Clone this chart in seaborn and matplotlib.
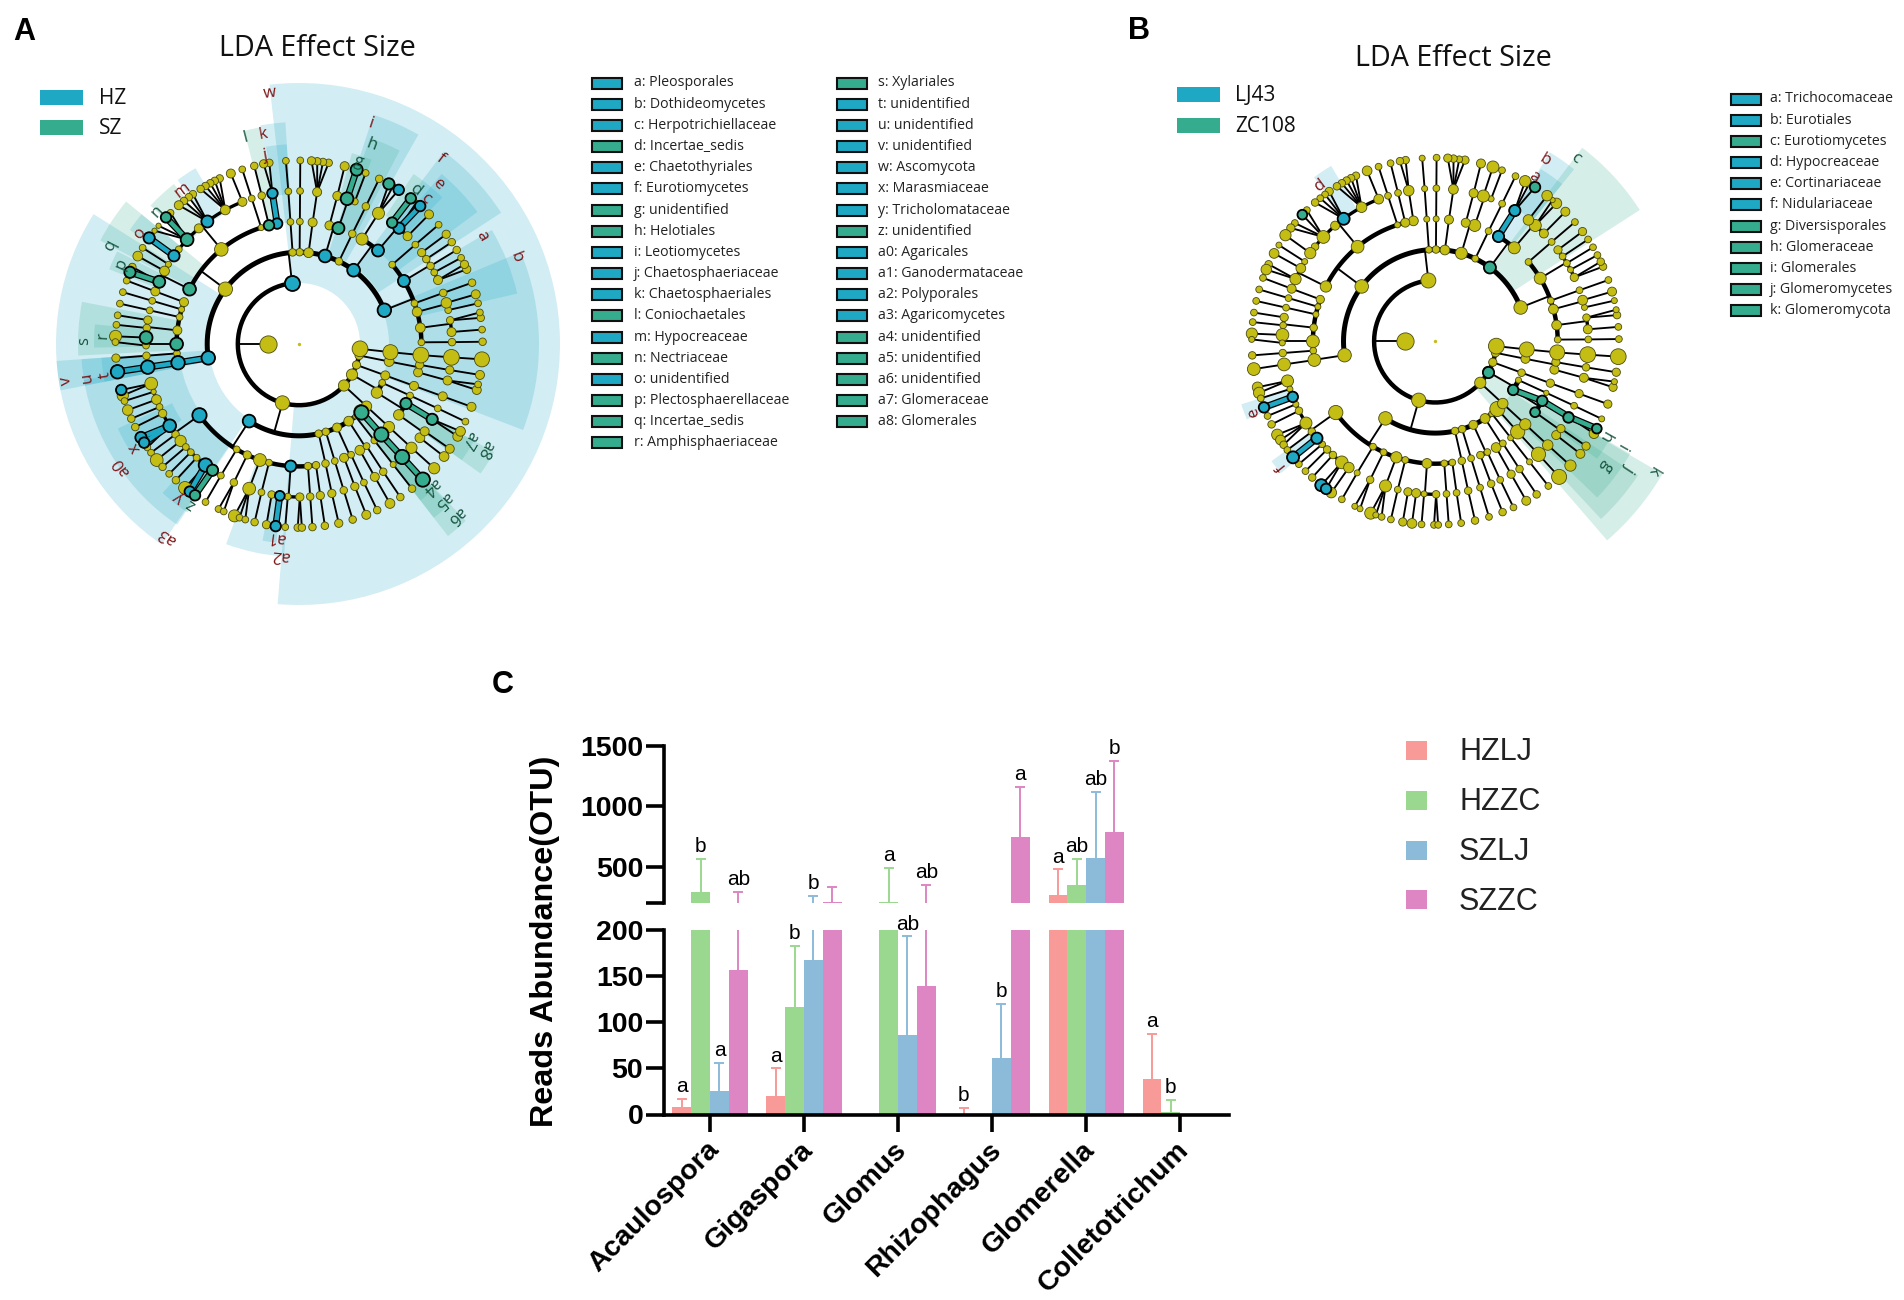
import numpy as np
import pandas as pd
import seaborn as sns
import matplotlib.pyplot as plt
from matplotlib.patches import Rectangle
from matplotlib.transforms import ScaledTranslation

sns.set_theme(style='white')
plt.rcParams['font.family'] = ['Open Sans', 'DejaVu Sans']

W, H = 1904, 1300
BLUE, GREEN, YELLOW = '#1FA8C3', '#36AC8F', '#C4BD14'
DARKRED, DARKGREEN = '#7B1416', '#14533C'
STEP = 30.6  # ring spacing of the cladogram

# shared taxonomy tree: ring angle (deg) of each clade and index of its parent on the ring inside
theta_l2 = [96.5, 254.3, 317.3, 330, 340, 349.2, 355.5]
theta_l3 = [21.6, 53.5, 64.2, 73.5, 84, 89.6, 94, 143.3, 188.7, 237.1, 282.4, 287, 294.5, 302.8, 308, 312.5,
            317.3, 328, 335, 340, 349, 354.9]
parent_l3 = [0, 0, 0, 0, 0, 0, 0, 0, 0, 1, 1, 1, 1, 1, 1, 1, 2, 3, 3, 4, 5, 6]
theta_l4 = [0.8, 7.6, 15.2, 19.4, 31, 40.4, 49.8, 59, 64.2, 71.2, 75.6, 83.6, 89.6, 94, 100.3, 104.2, 108, 129.4,
            153.4, 160, 163.6, 167.3, 173.6, 180, 184.4, 188.8, 215.6, 239.4, 245, 251.4, 255.8, 266.1, 274.2, 278,
            282.5, 287, 291.6, 295.2, 299.8, 303.5, 308, 312.3, 317.3, 324.6, 330.9, 335.1, 340, 346.6, 350.2, 354.8]
parent_l4 = [0, 0, 0, 0, 0, 0, 1, 1, 2, 3, 3, 4, 5, 6, 7, 7, 7, 7, 7, 8, 8, 8, 8, 8, 8, 8, 9, 9, 9, 9, 9, 9, 9, 9,
             10, 11, 12, 12, 13, 13, 14, 15, 16, 17, 17, 18, 19, 20, 20, 21]
theta_l5 = [0.7, 4.5, 8.9, 12.8, 15.6, 19.5, 24.7, 27.9, 30.7, 33.7, 36.7, 40.5, 44.8, 49.2, 52.5, 58.7, 64.1, 68.6,
            71.7, 75.5, 83.2, 89.6, 94, 100, 104.1, 108, 111.7, 118.8, 126.8, 130.9, 137, 141.8, 144.8, 148.6, 151.5,
            156, 159.9, 163.6, 167.3, 171, 174, 177.6, 180.6, 184.4, 188.7, 195, 198.2, 201.3, 204.3, 207, 212.3,
            216.2, 219.3, 222.3, 225, 228, 232.3, 235.6, 239.3, 244.8, 251, 255.8, 259.7, 262.8, 265.8, 270.3, 274.2,
            278, 282.4, 287, 291.4, 295.1, 299.7, 303.4, 308, 312.4, 317.3, 322.2, 325.2, 330.5, 335.1, 340, 346.2,
            350.2, 355]
parent_l5 = [0, 1, 1, 2, 2, 3, 4, 4, 4, 4, 4, 5, 6, 6, 6, 7, 8, 9, 9, 10, 11, 12, 13, 14, 15, 16, 17, 17, 17, 17, 17,
             17, 17, 18, 18, 18, 19, 20, 21, 22, 22, 23, 23, 24, 25, 26, 26, 26, 26, 26, 26, 26, 26, 26, 26, 26, 26,
             26, 27, 28, 29, 30, 31, 31, 31, 31, 32, 33, 34, 35, 36, 37, 38, 39, 40, 41, 42, 43, 43, 44, 45, 46, 47,
             48, 49]
theta_l6 = [0.7, 4.5, 8.2, 9.9, 12.8, 15.7, 19.5, 24, 25.7, 28, 30.8, 33.7, 36.7, 40.5, 44.9, 48.7, 50.3, 52.5, 57.1,
            59.2, 60.7, 64.1, 68.7, 71.7, 75.6, 80.7, 82.5, 84.3, 86.1, 89.6, 94.1, 99.3, 101.1, 104.1, 108, 111.8,
            115.6, 117.3, 118.9, 120.6, 122.4, 125.3, 126.9, 128.8, 130.9, 134.4, 136.4, 139.9, 141.9, 144.7, 148.4,
            151.4, 155.2, 157, 159.8, 163.6, 167.3, 171, 174, 177.6, 179.4, 184.4, 188.7, 194.5, 196.3, 198.1, 201.1,
            204, 206.9, 210.6, 212.5, 214.3, 216.3, 219.2, 222, 225, 227.9, 231.6, 233.5, 235.5, 239.4, 244, 245.8,
            249.4, 251.1, 253, 256, 259.8, 262.7, 265.7, 269.6, 270.9, 274.2, 278.1, 282.5, 287, 291.5, 295.2, 299.7,
            303.5, 308, 312.4, 317.4, 322.2, 325.2, 329.8, 331.6, 335, 340, 345.5, 347.3, 350.3, 355.2]
parent_l6 = [0, 1, 2, 2, 3, 4, 5, 6, 6, 7, 8, 9, 10, 11, 12, 13, 13, 14, 15, 15, 15, 16, 17, 18, 19, 20, 20, 20, 20,
             21, 22, 23, 23, 24, 25, 26, 27, 27, 27, 27, 27, 28, 28, 28, 28, 30, 30, 30, 30, 32, 33, 34, 35, 35, 36,
             37, 38, 39, 40, 41, 42, 43, 44, 45, 45, 46, 47, 48, 49, 50, 50, 50, 51, 52, 53, 54, 55, 56, 56, 57, 58,
             59, 59, 60, 60, 60, 61, 62, 63, 64, 65, 65, 66, 67, 68, 69, 70, 71, 72, 73, 74, 75, 76, 77, 78, 79, 79,
             80, 81, 82, 82, 83, 84]

# panel A: node abundance by ring
a_size_l2 = [40, 38, 30, 30, 22, 22, 42]
a_size_l3 = [36, 34, 20, 34, 26, 20, 20, 38, 36, 34, 20, 20, 24, 26, 14, 38, 28, 30, 18, 24, 26, 40]
a_size_l4 = [18, 26, 26, 18, 32, 18, 32, 32, 20, 32, 24, 24, 18, 18, 28, 28, 16, 36, 34, 24, 16, 18, 24, 34, 18, 36,
             38, 18, 22, 34, 18, 30, 20, 20, 20, 18, 24, 18, 26, 18, 18, 38, 30, 28, 30, 18, 24, 24, 22, 42]
a_size_l5 = [20, 24, 20, 18, 28, 20, 24, 18, 20, 20, 22, 18, 24, 30, 28, 32, 20, 18, 34, 24, 24, 18, 18, 28, 20, 18,
             24, 26, 32, 24, 34, 18, 30, 16, 26, 32, 24, 18, 18, 22, 20, 34, 18, 20, 36, 34, 14, 26, 18, 22, 34, 20,
             30, 18, 18, 18, 36, 30, 18, 20, 34, 18, 20, 26, 18, 22, 20, 22, 22, 20, 22, 18, 24, 20, 16, 38, 30, 26,
             24, 30, 18, 24, 24, 22, 42]
a_size_l6 = [20, 18, 20, 18, 18, 24, 20, 22, 22, 18, 20, 20, 22, 18, 24, 28, 14, 28, 28, 16, 30, 20, 18, 32, 24, 20,
             20, 20, 22, 18, 18, 20, 22, 20, 18, 24, 20, 20, 20, 20, 20, 20, 20, 20, 24, 18, 28, 14, 14, 30, 18, 26,
             20, 30, 18, 18, 18, 18, 18, 32, 18, 22, 36, 28, 30, 18, 28, 20, 20, 30, 28, 18, 18, 34, 20, 18, 20, 34,
             28, 28, 18, 18, 18, 32, 18, 18, 20, 22, 28, 18, 20, 20, 20, 20, 22, 20, 24, 20, 26, 20, 20, 38, 30, 26,
             24, 26, 26, 18, 24, 24, 18, 24, 40]
# panel B: node abundance by ring
b_size_l2 = [40, 38, 30, 30, 22, 22, 42]
b_size_l3 = [36, 32, 18, 32, 26, 20, 18, 36, 36, 36, 20, 20, 24, 26, 16, 40, 28, 28, 16, 20, 24, 40]
b_size_l4 = [18, 26, 26, 18, 32, 18, 32, 30, 18, 32, 24, 24, 16, 16, 26, 24, 16, 34, 30, 22, 16, 16, 20, 34, 18, 34,
             38, 18, 18, 30, 18, 26, 18, 18, 20, 18, 20, 18, 26, 18, 16, 38, 30, 26, 28, 14, 22, 24, 22, 40]
b_size_l5 = [18, 24, 20, 16, 26, 18, 22, 16, 18, 18, 22, 18, 24, 32, 28, 30, 18, 16, 32, 24, 26, 18, 16, 28, 18, 18,
             26, 28, 32, 24, 34, 20, 30, 16, 26, 30, 24, 18, 18, 22, 18, 34, 16, 20, 34, 32, 16, 28, 16, 20, 32, 20,
             30, 18, 20, 20, 34, 28, 16, 20, 32, 18, 22, 24, 16, 20, 18, 18, 20, 18, 20, 18, 22, 20, 16, 38, 28, 24,
             22, 28, 18, 22, 24, 20, 42]
b_size_l6 = [18, 18, 20, 16, 16, 24, 18, 20, 20, 18, 18, 18, 22, 18, 24, 28, 14, 28, 28, 18, 30, 18, 18, 32, 24, 22,
             18, 20, 22, 18, 16, 20, 20, 18, 18, 26, 20, 20, 20, 20, 20, 22, 18, 18, 20, 18, 26, 18, 22, 30, 16, 26,
             20, 28, 18, 18, 18, 18, 18, 30, 16, 20, 34, 28, 30, 18, 28, 18, 20, 30, 26, 20, 18, 32, 18, 18, 20, 32,
             28, 28, 18, 16, 16, 32, 16, 18, 18, 22, 26, 18, 18, 18, 18, 18, 20, 18, 20, 18, 24, 20, 18, 40, 30, 24,
             22, 26, 26, 16, 22, 22, 16, 22, 42]

# enriched clades per ring (ring number: clade indices)
a_hz = {2: [0], 3: [0, 1, 3, 8, 9], 4: [4, 6, 14, 25, 26, 31], 5: [13, 23, 28, 32, 44, 50, 56, 63],
        6: [15, 18, 49, 62, 63, 69, 70, 78, 88]}
a_sz = {3: [15], 4: [9, 15, 18, 23, 41, 44], 5: [14, 18, 30, 35, 41, 57, 75, 79], 6: [17, 20, 23, 46, 53, 79, 101]}
a_links = {4: [25, 41], 5: [23, 44, 75, 79], 6: [15, 17, 23, 46, 49, 53, 62, 69, 70, 78, 79, 88, 101]}
b_lj = {4: [7], 5: [15, 28, 47, 52], 6: [66, 73, 77, 78]}
b_zc = {2: [3], 3: [1, 17], 4: [43, 44], 5: [79], 6: [18, 46, 106]}
b_links = {4: [44], 5: [15, 79], 6: [66, 73, 106]}

# shaded sectors
a_sector_from = [-94.7, 147.7, 250, 189.5, -21, 33, 60.3, 13, 36.5, 62.5, 68.5, 45.6, 52, 93.5, 93.5, 100, 120.5, 128,
                 140.5, 140.5, 153, 174.5, 169, 184, 184, 184, 205, 227.5, 233.5, 259.5, -52.2, -52.2, -52.2, -35.5,
                 -35.5]
a_sector_to = [96.5, 235.6, 266, 236, 22.5, 53, 72, 30.6, 50, 71, 74.5, 52, 56, 100, 99.5, 104.4, 126.5, 137, 146,
               152.5, 158.5, 181, 183, 191, 191, 191, 213, 233.5, 236.5, 263.5, -47, -47, -46.7, -29, -29]
a_sector_in = [61, 90, 122, 120, 90, 95, 95, 123, 122, 122, 155, 155, 155, 122, 150, 122, 150, 150, 150, 122, 150,
               150, 122, 90, 120, 150, 140, 150, 150, 155, 152, 122, 90, 155, 122]
a_sector_out = [261, 243, 213, 218, 240, 241, 241, 224, 222, 218, 198, 205, 205, 222, 200, 220, 204, 203, 204, 224,
                204, 205, 221, 243, 218, 198, 200, 202, 202, 200, 198, 220, 243, 200, 223]
a_sector_sz = [0, 0, 0, 0, 0, 0, 0, 0, 0, 1, 1, 0, 1, 0, 0, 1, 0, 1, 0, 1, 1, 1, 1, 0, 0, 0, 0, 0, 1, 0, 1, 1, 1, 1, 1]
b_sector_from = [51.1, 51.1, 32.7, 120.7, 198, 216.2, -44, -36, -37, -47, -49.2]
b_sector_to = [58.5, 58.8, 52.8, 126.5, 202.5, 220.5, -37, -30, -30, -33.5, -30.3]
b_sector_in = [155, 122, 93, 154, 154, 154, 122, 155, 122, 92, 61]
b_sector_out = [202, 221, 243, 204, 204, 203, 225, 200, 225, 243, 263]
b_sector_zc = [0, 0, 1, 0, 0, 0, 1, 1, 1, 1, 1]

# clade letters on the rings
a_mark = ['w', 'i', 'h', 'g', 'f', 'e', 'd', 'c', 'a', 'b', 'a7', 'a8', 'a4', 'a5', 'a6', 'a1', 'a2', 'a3', 'y', 'z',
          'x', 'a0', 't', 'u', 'v', 's', 'r', 'q', 'p', 'o', 'n', 'm', 'l', 'k', 'j']
a_mark_theta = [96.6, 72, 70, 72, 52.8, 48.8, 52.8, 49, 30.5, 21.8, -29.4, -29.4, -47.2, -47.4, -47.5, 263.2, 265,
                235.7, 232.2, 235.9, 212.2, 214.7, 188.9, 189, 189, 179.3, 177.4, 152.6, 155.7, 145.2, 137, 127,
                104.4, 99.8, 100]
a_mark_r = [252, 232, 212, 192, 233, 212, 193, 193, 212, 234, 195, 214, 194, 213, 232, 194, 212, 233, 194, 193, 194,
            216, 196, 215, 236, 215, 196, 213, 195, 194, 194, 193, 213, 213, 191]
a_mark_sz = [0, 0, 1, 1, 0, 0, 1, 0, 0, 0, 1, 1, 1, 1, 1, 0, 0, 0, 0, 1, 0, 0, 0, 0, 0, 1, 1, 1, 1, 0, 1, 0, 1, 0, 0]
b_mark = ['a', 'b', 'c', 'd', 'e', 'f', 'g', 'h', 'i', 'j', 'k']
b_mark_theta = [58.9, 58.8, 52.6, 126.7, 201.4, 219, -36.2, -29.3, -29.5, -33.1, -30.8]
b_mark_r = [192, 212, 231, 194, 195, 198, 212, 194, 214, 232, 253]
b_mark_zc = [0, 0, 1, 0, 0, 0, 1, 1, 1, 1, 1]

# taxa keys
a_taxa_1 = ['a: Pleosporales', 'b: Dothideomycetes', 'c: Herpotrichiellaceae', 'd: Incertae_sedis', 'e: Chaetothyriales',
            'f: Eurotiomycetes', 'g: unidentified', 'h: Helotiales', 'i: Leotiomycetes', 'j: Chaetosphaeriaceae',
            'k: Chaetosphaeriales', 'l: Coniochaetales', 'm: Hypocreaceae', 'n: Nectriaceae', 'o: unidentified',
            'p: Plectosphaerellaceae', 'q: Incertae_sedis', 'r: Amphisphaeriaceae']
a_taxa_1_sz = [0, 0, 0, 1, 0, 0, 1, 1, 0, 0, 0, 1, 0, 1, 0, 1, 1, 1]
a_taxa_2 = ['s: Xylariales', 't: unidentified', 'u: unidentified', 'v: unidentified', 'w: Ascomycota', 'x: Marasmiaceae',
            'y: Tricholomataceae', 'z: unidentified', 'a0: Agaricales', 'a1: Ganodermataceae', 'a2: Polyporales',
            'a3: Agaricomycetes', 'a4: unidentified', 'a5: unidentified', 'a6: unidentified', 'a7: Glomeraceae',
            'a8: Glomerales']
a_taxa_2_sz = [1, 0, 0, 0, 0, 0, 0, 1, 0, 0, 0, 0, 1, 1, 1, 1, 1]
b_taxa = ['a: Trichocomaceae', 'b: Eurotiales', 'c: Eurotiomycetes', 'd: Hypocreaceae', 'e: Cortinariaceae',
          'f: Nidulariaceae', 'g: Diversisporales', 'h: Glomeraceae', 'i: Glomerales', 'j: Glomeromycetes',
          'k: Glomeromycota']
b_taxa_zc = [0, 0, 1, 0, 0, 0, 1, 1, 1, 1, 1]

# panel C
genera = ['Acaulospora', 'Gigaspora', 'Glomus', 'Rhizophagus', 'Glomerella', 'Colletotrichum']
groups = ['HZLJ', 'HZZC', 'SZLJ', 'SZZC']
hzlj = [8, 20, 0, 1, 270, 38]
hzzc = [292, 116, 207, 0, 347, 3]
szlj = [26, 168, 86, 61, 570, 0]
szzc = [157, 205, 139, 745, 790, 0]
hzlj_top = [17, 50, 0, 7, 478, 87]
hzzc_top = [565, 183, 487, 0, 565, 16]
szlj_top = [56, 257, 193, 120, 1120, 0]
szzc_top = [292, 330, 350, 1160, 1376, 0]
hzlj_mark = ['a', 'a', '', 'b', 'a', 'a']
hzzc_mark = ['b', 'b', 'a', '', 'ab', 'b']
szlj_mark = ['a', 'b', 'ab', 'b', 'ab', '']
szzc_mark = ['ab', '', 'ab', 'a', 'b', '']
group_colors = ['#F79A98', '#9BD88F', '#8CBBDA', '#DD86C3']

fig = plt.figure(figsize=(W / 100, H / 100), dpi=100)
fig.patch.set_facecolor('white')


def polar_axes(cx, cy, half=285):
    ax = fig.add_axes([(cx - half) / W, 1 - (cy + half) / H, 2 * half / W, 2 * half / H], projection='polar')
    ax.set_axis_off()
    ax.set_ylim(0, half)
    ax.patch.set_alpha(0)
    return ax


def cladogram(ax, sizes, first, second, links):
    thetas = [[180], theta_l2, theta_l3, theta_l4, theta_l5, theta_l6]
    parents = [None, [0] * 7, parent_l3, parent_l4, parent_l5, parent_l6]
    arc_width = [0, 3.2, 3.6, 3.2, 2.4, 1]
    for lev in range(1, 6):
        th, par = np.radians(thetas[lev]), np.array(parents[lev])
        up = np.radians(thetas[lev - 1])
        r0, r1 = lev * STEP, (lev + 1) * STEP
        for p in np.unique(par):
            kids = th[par == p]
            if len(kids) == 1 or lev == 5:
                for k in kids:
                    ax.plot([up[p], k], [r0, r1], color='black', lw=1.35, zorder=2, solid_capstyle='round')
            else:
                ax.plot([up[p], up[p]], [r0, r1], color='black', lw=1.35, zorder=2)
                arc = np.linspace(kids.min(), kids.max(), 60)
                ax.plot(arc, np.full(60, r1), color='black', lw=arc_width[lev], zorder=2, solid_capstyle='butt')
    # coloured links between enriched clades
    for lev, idx in links.items():
        for i in idx:
            p = parents[lev - 1][i]
            col = BLUE if i in first.get(lev, []) else GREEN
            x = np.radians([thetas[lev - 2][p], thetas[lev - 1][i]])
            y = [(lev - 1) * STEP, lev * STEP]
            ax.plot(x, y, color='black', lw=5, zorder=2.2, solid_capstyle='butt')
            ax.plot(x, y, color=col, lw=3.2, zorder=2.3, solid_capstyle='butt')
    # nodes, yellow first
    ax.scatter([0], [0], s=2, color=YELLOW, zorder=3)
    all_sizes = [[46]] + sizes
    for lev in range(6):
        th, d = np.radians(thetas[lev]), np.array(all_sizes[lev]) * 0.27
        ax.scatter(th, np.full(len(th), (lev + 1) * STEP), s=d ** 2, color=YELLOW, edgecolor='#4A4A10', linewidth=0.6,
                   zorder=3)
        for grp, col in ((first, BLUE), (second, GREEN)):
            idx = grp.get(lev + 1, [])
            if idx:
                ax.scatter(th[idx], np.full(len(idx), (lev + 1) * STEP), s=d[idx] ** 2, color=col, edgecolor='black',
                           linewidth=1.3, zorder=4)


def sectors(ax, start, stop, inner, outer, second):
    for a, b, ri, ro, g in zip(start, stop, inner, outer, second):
        ax.bar(np.radians((a + b) / 2), ro - ri, width=np.radians(b - a), bottom=ri,
               color=GREEN if g else BLUE, alpha=0.2, linewidth=0, zorder=1)


def marks(ax, names, angle, radius, second):
    for n, a, r, g in zip(names, angle, radius, second):
        ax.text(np.radians(a), r, n, rotation=a - 90, rotation_mode='anchor', ha='center', va='center',
                fontsize=12, color=DARKGREEN if g else DARKRED, zorder=5)


ax_a = polar_axes(299, 344)
sectors(ax_a, a_sector_from, a_sector_to, a_sector_in, a_sector_out, a_sector_sz)
cladogram(ax_a, [a_size_l2, a_size_l3, a_size_l4, a_size_l5, a_size_l6], a_hz, a_sz, a_links)
marks(ax_a, a_mark, a_mark_theta, a_mark_r, a_mark_sz)

ax_b = polar_axes(1435.3, 341.3)
sectors(ax_b, b_sector_from, b_sector_to, b_sector_in, b_sector_out, b_sector_zc)
cladogram(ax_b, [b_size_l2, b_size_l3, b_size_l4, b_size_l5, b_size_l6], b_lj, b_zc, b_links)
marks(ax_b, b_mark, b_mark_theta, b_mark_r, b_mark_zc)

# panel C, broken y axis
df = pd.DataFrame({'genus': genera * 4, 'group': np.repeat(groups, 6), 'reads': hzlj + hzzc + szlj + szzc})
tops = [hzlj_top, hzzc_top, szlj_top, szzc_top]
vals = [hzlj, hzzc, szlj, szzc]
bar_marks = [hzlj_mark, hzzc_mark, szlj_mark, szzc_mark]
x0, x1 = 664, 1229
ax_low = fig.add_axes([x0 / W, 1 - 1114.5 / H, (x1 - x0) / W, (1114.5 - 930) / H])
ax_up = fig.add_axes([x0 / W, 1 - 903 / H, (x1 - x0) / W, (903 - 745.5) / H])
for ax, lim in ((ax_low, (0, 200)), (ax_up, (200, 1500))):
    sns.barplot(data=df, x='genus', y='reads', hue='group', hue_order=groups, palette=group_colors, errorbar=None,
                width=0.8, gap=0, saturation=1, legend=False, linewidth=0, ax=ax)
    for h, col in enumerate(group_colors):
        xpos = np.arange(6) + (h - 1.5) * 0.2
        up = np.array(tops[h]) - np.array(vals[h])
        # a cap just under the break would peek out of the upper part
        show = np.array(tops[h]) > max(lim[0], 0)
        _, caps, _ = ax.errorbar(xpos[show], np.array(vals[h])[show], yerr=[np.zeros(show.sum()), up[show]], fmt='none',
                                 ecolor=col, elinewidth=1.4, capsize=3.6, capthick=1.4)
        caps[0].set_visible(False)
        for x, t, m in zip(xpos, tops[h], bar_marks[h]):
            if m and lim[0] <= t < lim[1]:
                ax.annotate(m, (x, t), xytext=(0, 2), textcoords='offset points', ha='center', va='bottom',
                            fontsize=15, family='Liberation Sans', color='black', annotation_clip=False)
    ax.set_xlim(-0.49, 5.52)
    ax.set_ylim(*lim)
    ax.set_ylabel('')
    ax.set_xlabel('')
    ax.patch.set_alpha(0)
    sns.despine(ax=ax)
    ax.spines['left'].set_linewidth(2.6)
    ax.spines['bottom'].set_linewidth(2.6)
    ax.spines['left'].set_color('black')
    ax.spines['bottom'].set_color('black')
    ax.tick_params(axis='y', length=13, width=2.6, pad=2, left=True, color='black', labelcolor='black')

ax_low.set_yticks([0, 50, 100, 150, 200])
ax_low.set_yticklabels(['0', '50', '100', '150', '200'], fontsize=20.5, fontweight='bold', family='Liberation Sans')
ax_low.tick_params(axis='x', length=12, width=2.6, pad=4, bottom=True, color='black', labelcolor='black')
ax_low.set_xticks(range(6))
ax_low.set_xticklabels(genera, rotation=45, ha='right', va='top', rotation_mode='anchor', fontsize=20.5,
                       fontweight='bold', family='Liberation Sans')
for lab in ax_low.get_xticklabels():
    lab.set_transform(lab.get_transform() + ScaledTranslation(-4 / 100, 0, fig.dpi_scale_trans))
ax_up.set_yticks([200, 500, 1000, 1500])
ax_up.set_yticklabels(['', '500', '1000', '1500'], fontsize=20.5, fontweight='bold', family='Liberation Sans')
ax_up.spines['bottom'].set_visible(False)
ax_up.set_xticks([])

# overlay in pixel coordinates for titles and keys
ov = fig.add_axes([0, 0, 1, 1], zorder=10)
ov.set_xlim(0, W)
ov.set_ylim(H, 0)
ov.set_axis_off()
ov.patch.set_alpha(0)


def swatch(x, y, w, h, col, edge=None):
    ov.add_patch(Rectangle((x, y - h / 2), w, h, facecolor=col, edgecolor=edge or col, linewidth=1.5 if edge else 0))


for txt, x, y in (('A', 24, 32), ('B', 1139, 31), ('C', 503, 685)):
    ov.text(x, y, txt, fontsize=22, fontweight='bold', family='Liberation Sans', ha='center', va='center', color='black')
for x, y in ((317, 49), (1453, 59)):
    ov.text(x, y, 'LDA Effect Size', fontsize=20.7, ha='center', va='center', color='#111111')

for txt, y, col in (('HZ', 97, BLUE), ('SZ', 127, GREEN)):
    swatch(40, y, 43, 15, col)
    ov.text(99, y + 1.5, txt, fontsize=15, va='center', color='#111111')
for txt, y, col in (('LJ43', 94, BLUE), ('ZC108', 125, GREEN)):
    swatch(1177, y, 43, 15, col)
    ov.text(1235, y + 1.5, txt, fontsize=15, va='center', color='#111111')

for names, flags, xs, xt, y0 in ((a_taxa_1, a_taxa_1_sz, 592, 634, 83), (a_taxa_2, a_taxa_2_sz, 837, 878, 83),
                                 (b_taxa, b_taxa_zc, 1731, 1770, 99)):
    for i, (n, g) in enumerate(zip(names, flags)):
        y = y0 + i * 21.17
        swatch(xs, y, 30, 11, GREEN if g else BLUE, edge='#111111')
        ov.text(xt, y, n, fontsize=10.2, va='center', color='#222222')

for txt, y, col in zip(groups, (749, 799, 849, 898), group_colors):
    swatch(1406, y + 1, 21, 19, col)
    ov.text(1459, y + 3.5, txt, fontsize=22, family='Liberation Sans', va='center', color='#222222')

ov.text(545, 941, 'Reads Abundance(OTU)', rotation=90, fontsize=23.3, fontweight='bold', family='Liberation Sans',
        ha='center', va='center', color='black')

fig.savefig('out.png', dpi=100, facecolor='white')
